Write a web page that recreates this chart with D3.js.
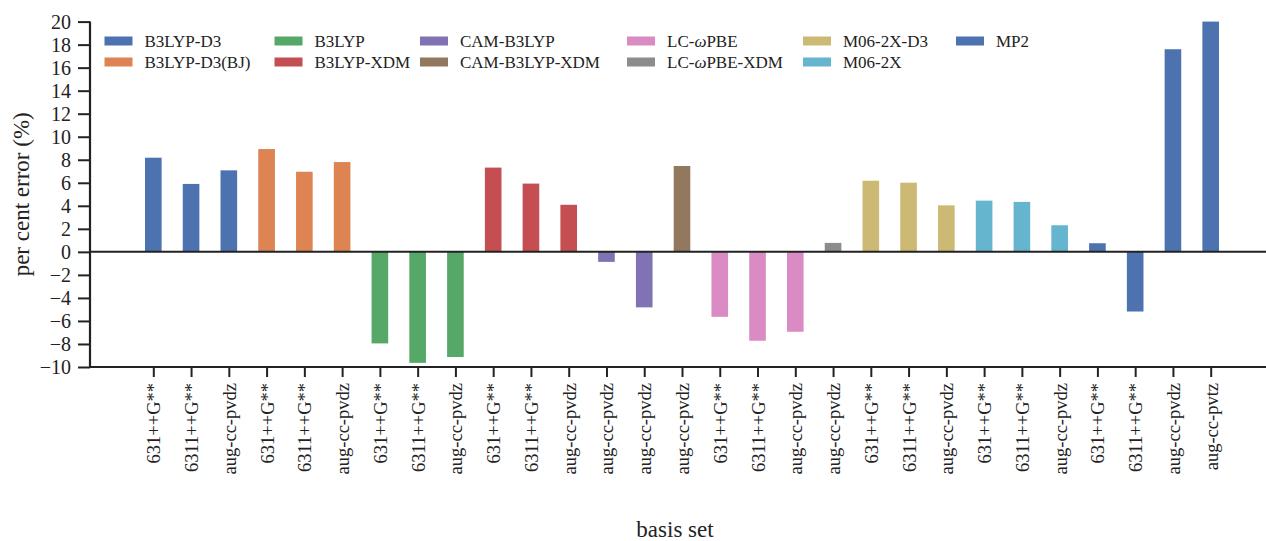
<!DOCTYPE html>
<html>
<head>
<meta charset="utf-8">
<script src="https://cdn.jsdelivr.net/npm/d3@7"></script>
<style>
  html, body { margin: 0; padding: 0; background: #fff; }
  svg { display: block; }
  svg text { font-family: "Liberation Serif", "Times New Roman", serif; fill: #222; }
</style>
</head>
<body>
<svg id="chart" width="1266" height="541"></svg>
<script>
// ---- data ----
const methods = ["B3LYP-D3", "B3LYP-D3(BJ)", "B3LYP", "B3LYP-XDM", "CAM-B3LYP", "CAM-B3LYP-XDM",
                 "LC-ωPBE", "LC-ωPBE-XDM", "M06-2X-D3", "M06-2X", "MP2"];
const methodColors = ["#4C72B0", "#DD8452", "#55A868", "#C44E52", "#8172B3", "#937860",
                      "#DA8BC3", "#8C8C8C", "#CCB974", "#64B5CD", "#4C72B0"];
const basisLabels = ["631++G**", "6311++G**", "aug-cc-pvdz",
                     "631++G**", "6311++G**", "aug-cc-pvdz",
                     "631++G**", "6311++G**", "aug-cc-pvdz",
                     "631++G**", "6311++G**", "aug-cc-pvdz",
                     "aug-cc-pvdz", "aug-cc-pvdz",
                     "aug-cc-pvdz",
                     "631++G**", "6311++G**", "aug-cc-pvdz",
                     "aug-cc-pvdz",
                     "631++G**", "6311++G**", "aug-cc-pvdz",
                     "631++G**", "6311++G**", "aug-cc-pvdz",
                     "631++G**", "6311++G**", "aug-cc-pvdz", "aug-cc-pvtz"];
const barMethod = [0, 0, 0, 1, 1, 1, 2, 2, 2, 3, 3, 3, 4, 4, 5, 6, 6, 6, 7, 8, 8, 8, 9, 9, 9, 10, 10, 10, 10];
const errors = [8.18, 5.9, 7.08, 8.93, 6.96, 7.8, -7.95, -9.64, -9.13, 7.32, 5.93, 4.09,
                -0.87, -4.82, 7.46, -5.64, -7.72, -6.94, 0.78, 6.18, 6.01, 4.04,
                4.45, 4.34, 2.31, 0.75, -5.18, 17.6, 20.0];
const yTicks = [-10, -8, -6, -4, -2, 0, 2, 4, 6, 8, 10, 12, 14, 16, 18, 20];

// ---- layout ----
const FONT = '"Liberation Serif", "Times New Roman", serif';
const svg = d3.select("#chart");
const axisLeft = 90, axisRight = 1266, yTop = 21.6, yBottom = 367;
const idx = d3.range(errors.length);
const x = d3.scalePoint().domain(idx).range([153.3, 1210.7]);
const barW = x.step() * 0.44;
const y = d3.scaleLinear().domain([-10, 20]).range([yBottom, yTop]);
const ink = "#222";

// bars
svg.append("g").selectAll("rect").data(idx).join("rect")
  .attr("x", i => x(i) - barW / 2)
  .attr("y", i => y(Math.max(0, errors[i])))
  .attr("width", barW)
  .attr("height", i => Math.abs(y(errors[i]) - y(0)))
  .attr("fill", i => methodColors[barMethod[i]]);

// zero line
svg.append("line")
  .attr("x1", axisLeft).attr("x2", axisRight)
  .attr("y1", y(0)).attr("y2", y(0))
  .attr("stroke", ink).attr("stroke-width", 2);

// y axis
const gy = svg.append("g").attr("transform", `translate(${axisLeft},0)`)
  .call(d3.axisLeft(y).tickValues(yTicks).tickSize(12).tickPadding(7)
        .tickFormat(d => d < 0 ? "\u2212" + Math.abs(d) : String(d)));
gy.attr("font-family", FONT);
gy.select(".domain").attr("stroke", ink).attr("stroke-width", 2.2).attr("d", `M0,${yTop}V${yBottom}`);
gy.selectAll(".tick line").attr("stroke", ink).attr("stroke-width", 2);
gy.selectAll(".tick text").attr("font-size", 20).style("font-family", FONT).attr("fill", ink);

// x axis
const gx = svg.append("g").attr("transform", `translate(0,${yBottom})`)
  .call(d3.axisBottom(x).tickSize(10).tickFormat(i => basisLabels[i]));
gx.attr("font-family", FONT);
gx.select(".domain").attr("stroke", ink).attr("stroke-width", 2.2).attr("d", `M${axisLeft},0H${axisRight}`);
gx.selectAll(".tick line").attr("stroke", ink).attr("stroke-width", 2);
gx.selectAll(".tick text")
  .attr("font-size", 18.5).style("font-family", FONT).attr("fill", ink)
  .attr("text-anchor", "end")
  .attr("transform", "rotate(-90)")
  .attr("x", -16).attr("y", 0).attr("dy", "0.35em");

// axis labels
svg.append("text")
  .attr("transform", `translate(29,${(yTop + yBottom) / 2}) rotate(-90)`)
  .attr("text-anchor", "middle").attr("font-size", 23).style("font-family", FONT)
  .text("per cent error (%)");
svg.append("text")
  .attr("x", 675).attr("y", 537).attr("text-anchor", "middle").attr("font-size", 23).style("font-family", FONT)
  .text("basis set");

// legend (6 columns, 2 rows, column-major)
const legendColX = [104.5, 274.5, 420, 627, 803, 956];
const legendRowY = [41, 62];
const leg = svg.append("g");
methods.forEach((m, k) => {
  const col = Math.floor(k / 2), row = k % 2;
  const gx0 = legendColX[col], gy0 = legendRowY[row];
  leg.append("rect")
    .attr("x", gx0).attr("y", gy0 - 4.5).attr("width", 28).attr("height", 9)
    .attr("fill", methodColors[k]);
  const t = leg.append("text")
    .attr("x", gx0 + 40).attr("y", gy0 + 5.5).attr("font-size", 17).style("font-family", FONT);
  if (m.includes("ω")) {
    const parts = m.split("ω");
    t.append("tspan").text(parts[0]);
    t.append("tspan").attr("font-style", "italic").text("ω");
    t.append("tspan").text(parts[1]);
  } else {
    t.text(m);
  }
});
</script>
</body>
</html>
